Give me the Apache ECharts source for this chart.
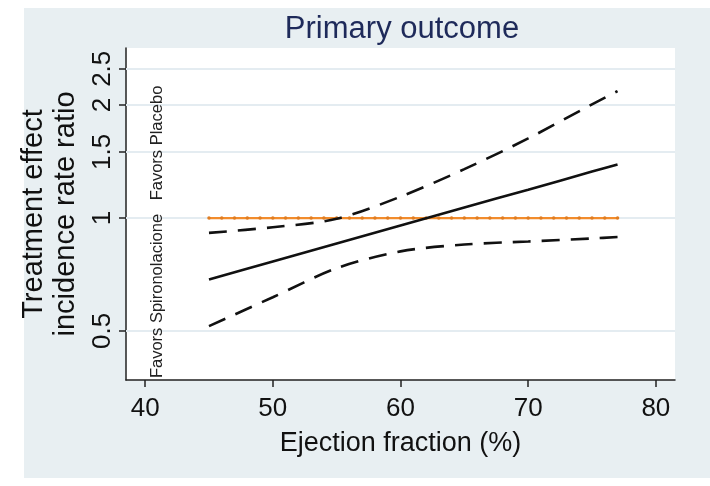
<!DOCTYPE html>
<html><head><meta charset="utf-8">
<script src="https://cdn.jsdelivr.net/npm/echarts@6/dist/echarts.min.js"></script>
<style>html,body{margin:0;padding:0;background:#fff}#c{width:710px;height:486px}</style>
</head><body><div id="c"></div>
<script>
// ---- data ----
var titleText = 'Primary outcome';
var xName = 'Ejection fraction (%)';
var yName = 'Treatment effect\nincidence rate ratio';
var xTicks = [40, 50, 60, 70, 80];
var yTicks = [0.5, 1, 1.5, 2, 2.5];
var efX = [45, 50, 55, 60, 65, 70, 75, 77];
var irrEstimate = [0.686, 0.766, 0.855, 0.955, 1.067, 1.19, 1.33, 1.39];
var irrUpper = [0.913, 0.945, 0.995, 1.14, 1.35, 1.63, 2.01, 2.18];
var irrLower = [0.515, 0.615, 0.735, 0.815, 0.85, 0.866, 0.882, 0.89];
var refX = [45,46,47,48,49,50,51,52,53,54,55,56,57,58,59,60,61,62,63,64,65,66,67,68,69,70,71,72,73,74,75,76,77];
var refValue = 1;
var noteUpper = 'Favors Placebo';
var noteLower = 'Favors Spironolacione';

function pairs(xs, ys) { return xs.map(function (x, i) { return [x, ys[i]]; }); }
var refData = refX.map(function (x) { return [x, refValue]; });

var FONT = "'Liberation Sans', Arial, sans-serif";
var chart = echarts.init(document.getElementById('c'), null, {renderer: 'canvas'});
var dashed = {color: '#111', width: 2.6, type: [18, 11]};
chart.setOption({
  animation: false,
  backgroundColor: '#ffffff',
  title: {
    text: titleText, left: 397, top: 9, textAlign: 'center',
    textStyle: {fontFamily: FONT, fontSize: 31, fontWeight: 'normal', color: '#1e2a5a'}
  },
  graphic: [
    {type: 'rect', z: -100, silent: true, shape: {x: 24, y: 8, width: 686, height: 470}, style: {fill: '#e8eff2'}},
    {type: 'text', z: 10, silent: true, x: 157, y: 143, rotation: Math.PI / 2,
      style: {text: noteUpper, fontFamily: FONT, fontSize: 16.5, fill: '#222', align: 'center', verticalAlign: 'middle'}},
    {type: 'text', z: 10, silent: true, x: 157, y: 296, rotation: Math.PI / 2,
      style: {text: noteLower, fontFamily: FONT, fontSize: 16.5, fill: '#222', align: 'center', verticalAlign: 'middle'}}
  ],
  grid: {left: 126, right: 35, top: 48, bottom: 106, show: true, backgroundColor: '#ffffff', borderWidth: 0, z: 0},
  xAxis: {
    type: 'value', min: 38.5, max: 81.5,
    name: xName, nameLocation: 'middle', nameGap: 50,
    nameTextStyle: {fontFamily: FONT, fontSize: 27, color: '#111'},
    axisLine: {show: true, onZero: false, lineStyle: {color: '#222', width: 1.5}},
    axisTick: {show: true, length: 7, customValues: xTicks, lineStyle: {color: '#222', width: 1.5}},
    axisLabel: {customValues: xTicks, fontFamily: FONT, fontSize: 26, color: '#111', margin: 16},
    splitLine: {show: false}
  },
  yAxis: {
    type: 'log', logBase: 10, min: 0.37, max: 2.84,
    name: yName, nameLocation: 'middle', nameGap: 37, nameRotate: 90,
    nameTextStyle: {fontFamily: FONT, fontSize: 29, color: '#111', lineHeight: 32},
    axisLine: {show: true, onZero: false, lineStyle: {color: '#222', width: 1.5}},
    axisTick: {show: true, length: 7, customValues: yTicks, lineStyle: {color: '#222', width: 1.5}},
    axisLabel: {customValues: yTicks, rotate: 90, fontFamily: FONT, fontSize: 26, color: '#111', margin: 10,
      formatter: function (v) { return String(v); }},
    splitLine: {show: false}
  },
  series: [
    {type: 'line', data: [], silent: true, z: 1,
      markLine: {silent: true, symbol: 'none', label: {show: false},
        lineStyle: {color: '#e4ecf1', width: 2, type: 'solid'},
        data: yTicks.map(function (v) { return {yAxis: v}; })}},
    {type: 'line', name: 'ref', data: refData, showSymbol: true, symbol: 'circle', symbolSize: 3.5,
      itemStyle: {color: '#e07d22'}, lineStyle: {color: '#f28c2c', width: 2.2}, z: 10},
    {type: 'line', name: 'upper', data: pairs(efX, irrUpper), smooth: 0.3, showSymbol: false, lineStyle: dashed, z: 12},
    {type: 'line', name: 'estimate', data: pairs(efX, irrEstimate), smooth: 0.3, showSymbol: false,
      lineStyle: {color: '#111', width: 2.6}, z: 12},
    {type: 'line', name: 'lower', data: pairs(efX, irrLower), smooth: 0.3, showSymbol: false, lineStyle: dashed, z: 12}
  ]
});
</script></body></html>
